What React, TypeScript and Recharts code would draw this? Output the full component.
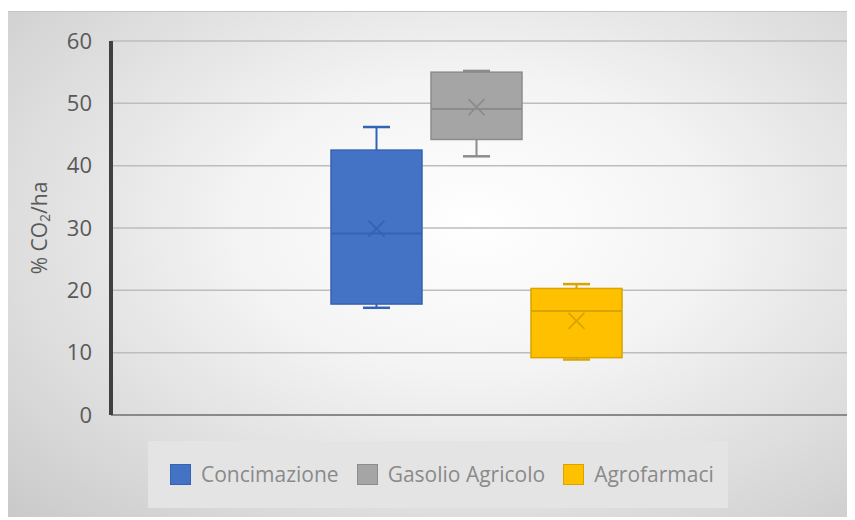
import React from 'react';
import { ComposedChart, Bar, XAxis, YAxis, CartesianGrid, Legend, Label } from 'recharts';

// Box-and-whisker statistics, one entry per series
const seriesNames = ['Concimazione', 'Gasolio Agricolo', 'Agrofarmaci'];
const minValues = [17.2, 41.5, 8.9];
const q1Values = [17.8, 44.2, 9.2];
const medianValues = [29.1, 49.1, 16.7];
const q3Values = [42.5, 55.0, 20.3];
const maxValues = [46.2, 55.2, 21.0];
const meanValues = [29.9, 49.4, 15.1];
const yTicks = [0, 10, 20, 30, 40, 50, 60];

const seriesFills = ['#4472C4', '#A5A5A5', '#FFC000'];
const seriesStrokes = ['#3563B3', '#8C8C8C', '#D9A300'];

// Single category row; each series spans its whisker range [min, max]
const data = [
  Object.assign(
    { category: 'Emissioni' },
    ...seriesNames.map((_, i) => ({ [`range${i}`]: [minValues[i], maxValues[i]] }))
  ),
];

const FONT = '"Open Sans", sans-serif';

function makeBoxShape(i: number) {
  return (props: any) => {
    const { x, y, width, height } = props;
    const lo = minValues[i];
    const hi = maxValues[i];
    // linear value -> pixel mapping inside the bar's [min, max] span
    const toY = (v: number) => y + (height * (hi - v)) / (hi - lo);
    const cx = x + width / 2;
    const capHalf = 13.5;
    const stroke = seriesStrokes[i];
    const yMin = toY(lo);
    const yMax = toY(hi);
    const yQ1 = toY(q1Values[i]);
    const yQ3 = toY(q3Values[i]);
    const yMed = toY(medianValues[i]);
    const yMean = toY(meanValues[i]);
    const m = 8;
    return (
      <g>
        <line x1={cx} x2={cx} y1={yMax} y2={yQ3} stroke={stroke} strokeWidth={2} />
        <line x1={cx} x2={cx} y1={yQ1} y2={yMin} stroke={stroke} strokeWidth={2} />
        <line x1={cx - capHalf} x2={cx + capHalf} y1={yMax} y2={yMax} stroke={stroke} strokeWidth={2.5} />
        <line x1={cx - capHalf} x2={cx + capHalf} y1={yMin} y2={yMin} stroke={stroke} strokeWidth={2.5} />
        <rect
          x={x}
          y={Math.min(yQ1, yQ3)}
          width={width}
          height={Math.abs(yQ1 - yQ3)}
          fill={seriesFills[i]}
          stroke={stroke}
          strokeWidth={1.5}
        />
        <line x1={x} x2={x + width} y1={yMed} y2={yMed} stroke={stroke} strokeWidth={2} />
        <path
          d={`M${cx - m},${yMean - m}L${cx + m},${yMean + m}M${cx + m},${yMean - m}L${cx - m},${yMean + m}`}
          stroke={stroke}
          strokeWidth={1.8}
          fill="none"
        />
      </g>
    );
  };
}

const renderLegend = () => (
  <div
    style={{
      width: 580,
      height: 67,
      background: '#e4e4e4',
      display: 'flex',
      alignItems: 'center',
      paddingLeft: 22,
      boxSizing: 'border-box',
      fontFamily: FONT,
      fontSize: 21,
      color: '#8a8a8a',
      whiteSpace: 'nowrap',
    }}
  >
    {seriesNames.map((name, i) => (
      <div key={name} style={{ display: 'flex', alignItems: 'center', marginRight: 18, flexShrink: 0 }}>
        <span
          style={{
            display: 'inline-block',
            width: 21,
            height: 21,
            boxSizing: 'border-box',
            background: seriesFills[i],
            border: `1.5px solid ${seriesStrokes[i]}`,
            marginRight: 10,
            flexShrink: 0,
          }}
        />
        <span style={{ lineHeight: '21px' }}>{name}</span>
      </div>
    ))}
  </div>
);

const renderYLabel = (props: any) => {
  const vb = props.viewBox || {};
  const cx = 31;
  const cy = (vb.y ?? 30) + (vb.height ?? 375) / 2;
  return (
    <text
      x={cx}
      y={cy}
      transform={`rotate(-90 ${cx} ${cy})`}
      textAnchor="middle"
      dominantBaseline="central"
      fontFamily={FONT}
      fontSize={21}
      fill="#595959"
    >
      <tspan>% CO</tspan>
      <tspan fontSize={14} dy={5}>2</tspan>
      <tspan dy={-5}>/ha</tspan>
    </text>
  );
};

export default function App() {
  return (
    <div
      style={{
        position: 'relative',
        top: 3,
        width: 847,
        height: 509,
        background:
          'radial-gradient(ellipse farthest-corner at 55% 42%, #ffffff 0%, #f4f4f4 35%, #dcdcdc 72%, #c9c9c9 100%)',
        boxShadow: 'inset 0 1px 0 #c4c4c4',
      }}
    >
      <ComposedChart
        width={847}
        height={509}
        data={data}
        margin={{ top: 30, right: 7, bottom: 37, left: 0 }}
        barSize={91}
        barGap={9}
      >
        <CartesianGrid vertical={false} stroke="#bdbdbd" strokeWidth={1.5} />
        <XAxis
          dataKey="category"
          tick={false}
          tickLine={false}
          height={1}
          padding={{ left: 0, right: 7 }}
          axisLine={{ stroke: '#8a8a8a', strokeWidth: 2 }}
        />
        <YAxis
          domain={[0, 60]}
          ticks={yTicks}
          width={103}
          tickLine={false}
          tickSize={0}
          tickMargin={19}
          axisLine={{ stroke: '#404040', strokeWidth: 4 }}
          tick={{ fill: '#595959', fontSize: 22, fontFamily: FONT }}
        >
          <Label content={renderYLabel} />
        </YAxis>
        {seriesNames.map((name, i) => (
          <Bar
            key={name}
            name={name}
            dataKey={`range${i}`}
            fill={seriesFills[i]}
            shape={makeBoxShape(i)}
            isAnimationActive={false}
          />
        ))}
        <Legend
          verticalAlign="bottom"
          content={renderLegend}
          wrapperStyle={{ position: 'absolute', left: 140, top: 430, bottom: 'auto', width: 580, height: 67 }}
        />
      </ComposedChart>
    </div>
  );
}
